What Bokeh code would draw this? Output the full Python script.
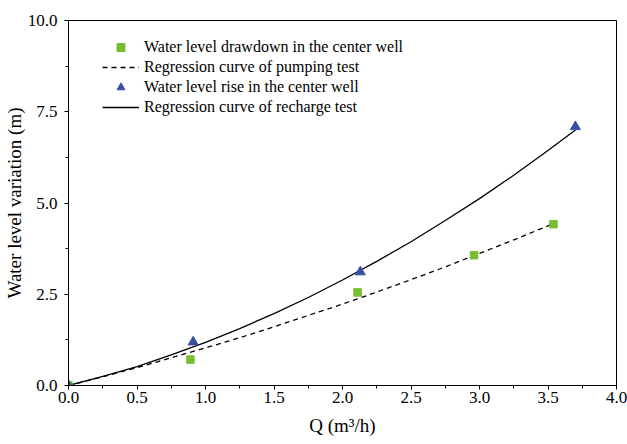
from bokeh.plotting import figure
from bokeh.models import FixedTicker, Legend, LegendItem, Range1d, NumeralTickFormatter
from bokeh.embed import file_html
from bokeh.resources import INLINE

# Measured points
pump_q = [0.0, 0.89, 2.11, 2.96, 3.54]
pump_s = [0.0, 0.71, 2.55, 3.57, 4.42]
rech_q = [0.0, 0.91, 2.13, 3.70]
rech_s = [0.0, 1.19, 3.11, 7.09]

# Regression curves
pump_curve_q = [0.0, 0.25, 0.5, 0.75, 1.0, 1.25, 1.5, 1.75, 2.0, 2.25, 2.5, 2.75, 3.0, 3.25, 3.55]
pump_curve_s = [0.0, 0.24, 0.49, 0.76, 1.03, 1.31, 1.61, 1.92, 2.23, 2.56, 2.90, 3.25, 3.62, 3.99, 4.45]
rech_curve_q = [0.0, 0.25, 0.5, 0.75, 1.0, 1.25, 1.5, 1.75, 2.0, 2.25, 2.5, 2.75, 3.0, 3.25, 3.5, 3.7]
rech_curve_s = [0.0, 0.25, 0.52, 0.84, 1.18, 1.56, 1.97, 2.41, 2.89, 3.40, 3.94, 4.52, 5.12, 5.76, 6.44, 7.00]

x_ticks = [0.0, 0.5, 1.0, 1.5, 2.0, 2.5, 3.0, 3.5, 4.0]
x_minor = [0.25, 0.75, 1.25, 1.75, 2.25, 2.75, 3.25, 3.75]
y_ticks = [0.0, 2.5, 5.0, 7.5, 10.0]
y_minor = [1.25, 3.75, 6.25, 8.75]

labels = [
    "Water level drawdown in the center well",
    "Regression curve of pumping test",
    "Water level rise in the center well",
    "Regression curve of recharge test",
]

FONT = "Liberation Serif"

p = figure(width=627, height=444, output_backend="svg", toolbar_location=None,
           x_range=Range1d(0, 4.0), y_range=Range1d(0, 10.0),
           min_border_left=68, min_border_right=11, min_border_top=20, min_border_bottom=59)

p.xgrid.visible = False
p.ygrid.visible = False
p.outline_line_color = "black"
p.outline_line_width = 1

r_pump_line = p.line(pump_curve_q, pump_curve_s, line_color="black", line_width=1.3, line_dash="5 4")
r_rech_line = p.line(rech_curve_q, rech_curve_s, line_color="black", line_width=1.3)
r_pump = p.scatter(pump_q, pump_s, marker="square", size=7.5, fill_color="#78BE30", line_color="#78BE30")
r_rech = p.scatter(rech_q, rech_s, marker="triangle", size=10, fill_color="#3A4DA0", line_color="#3A4DA0")

for ax, ticks, minor in ((p.xaxis[0], x_ticks, x_minor), (p.yaxis[0], y_ticks, y_minor)):
    ax.ticker = FixedTicker(ticks=ticks, minor_ticks=minor)
    ax.formatter = NumeralTickFormatter(format="0.0")
    ax.major_tick_in = 0
    ax.major_tick_out = 4
    ax.minor_tick_in = 0
    ax.minor_tick_out = 3
    ax.axis_line_color = "black"
    ax.major_tick_line_color = "black"
    ax.minor_tick_line_color = "black"
    ax.major_label_text_font = FONT
    ax.major_label_text_font_size = "17px"
    ax.major_label_text_color = "black"
    ax.axis_label_text_font = FONT
    ax.axis_label_text_font_size = "19px"
    ax.axis_label_text_font_style = "normal"
    ax.axis_label_text_color = "black"

p.xaxis[0].axis_label = "Q (m³/h)"
p.yaxis[0].axis_label = "Water level variation (m)"
p.xaxis[0].major_label_standoff = 2
p.xaxis[0].axis_label_standoff = 9
p.yaxis[0].major_label_standoff = 7
p.yaxis[0].axis_label_standoff = 0

legend = Legend(items=[
    LegendItem(label=labels[0], renderers=[r_pump]),
    LegendItem(label=labels[1], renderers=[r_pump_line]),
    LegendItem(label=labels[2], renderers=[r_rech]),
    LegendItem(label=labels[3], renderers=[r_rech_line]),
], location=(34, 268), padding=0, margin=0, spacing=0,
    glyph_width=37, glyph_height=20, label_height=20, label_standoff=5,
    label_text_font=FONT, label_text_font_size="16px", label_text_color="black",
    background_fill_alpha=0, border_line_alpha=0)
p.add_layout(legend, "center")

open("out.html", "w").write(file_html(p, INLINE))
